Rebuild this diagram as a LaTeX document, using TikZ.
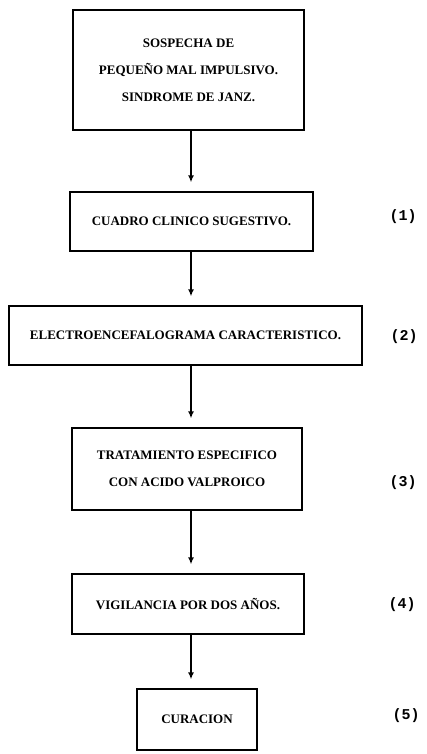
\documentclass[tikz,border=0pt]{standalone}
\usepackage{fontspec}
\setmainfont{Liberation Serif}
\newfontfamily\etiqfont{Liberation Mono}
\usetikzlibrary{arrows.meta}

\tikzset{
    caja/.style={draw, line width=1.3pt, inner sep=0pt, align=center,
        font=\fontsize{13}{27}\selectfont\bfseries},
    flecha/.style={-{Latex[length=7pt,width=6pt]}, line width=1.4pt, shorten >=9pt},
    etiq/.style={font=\fontsize{15}{15}\selectfont\etiqfont\bfseries}
}

\begin{document}
\begin{tikzpicture}[x=1pt, y=-1pt]
        \useasboundingbox (0,0) rectangle (426,754);
        \coordinate (eje) at (191,0);

        % Cajas del diagrama
        \node[caja, minimum width=231pt, minimum height=120pt] (sospecha) at (188.5,70)
            {SOSPECHA DE\\PEQUEÑO MAL IMPULSIVO.\\SINDROME DE JANZ.};
        \node[caja, minimum width=243pt, minimum height=59pt] (cuadro) at (191.5,221.5)
            {CUADRO CLINICO SUGESTIVO.};
        \node[caja, minimum width=353pt, minimum height=59pt] (eeg) at (185.5,335.5)
            {ELECTROENCEFALOGRAMA CARACTERISTICO.};
        \node[caja, minimum width=230pt, minimum height=82pt] (tratamiento) at (187,469)
            {TRATAMIENTO ESPECIFICO\\CON ACIDO VALPROICO};
        \node[caja, minimum width=232pt, minimum height=60pt] (vigilancia) at (188,604)
            {VIGILANCIA POR DOS AÑOS.};
        \node[caja, minimum width=120pt, minimum height=61pt] (curacion) at (197,719.5)
            {CURACION};

        % Flechas
        \draw[flecha] (sospecha.south -| eje) -- (cuadro.north -| eje);
        \draw[flecha] (cuadro.south -| eje) -- (eeg.north -| eje);
        \draw[flecha] (eeg.south -| eje) -- (tratamiento.north -| eje);
        \draw[flecha] (tratamiento.south -| eje) -- (vigilancia.north -| eje);
        \draw[flecha] (vigilancia.south -| eje) -- (curacion.north -| eje);

        % Numeracion
        \node[etiq] (n1) at (403,217) {(1)};
        \node[etiq] (n2) at (404,337) {(2)};
        \node[etiq] (n3) at (403,483) {(3)};
        \node[etiq] (n4) at (402,605) {(4)};
        \node[etiq] (n5) at (406,716) {(5)};
    \end{tikzpicture}
\end{document}
